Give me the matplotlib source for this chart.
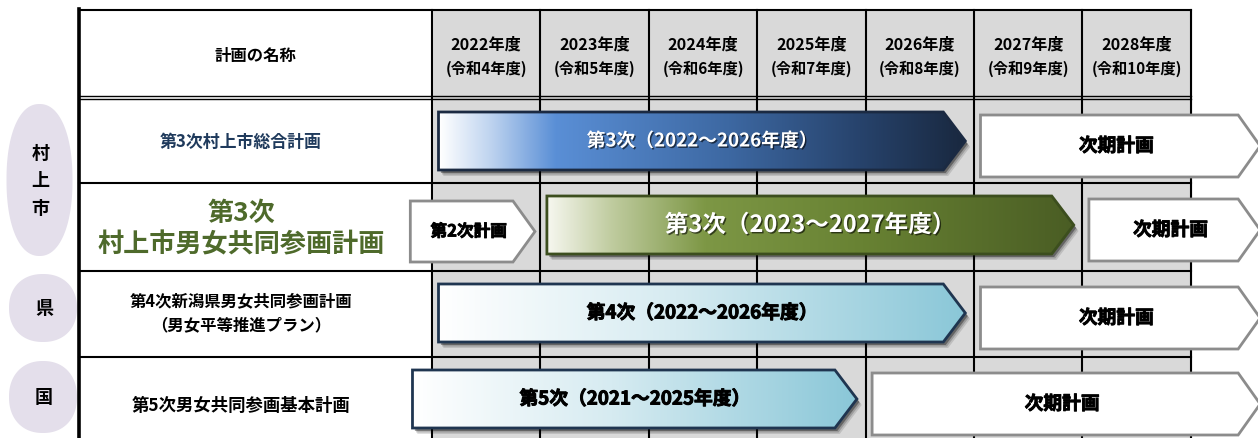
import numpy as np
import matplotlib
matplotlib.use('Agg')
import matplotlib.pyplot as plt
import matplotlib.patheffects as pe
from matplotlib.patches import Polygon, Rectangle
from matplotlib.colors import LinearSegmentedColormap

plt.rcParams['font.family'] = ['Noto Sans CJK JP', 'DejaVu Sans']

# ---------------- data ----------------
years = [2022, 2023, 2024, 2025, 2026, 2027, 2028]
reiwa = [4, 5, 6, 7, 8, 9, 10]
header_title = '計画の名称'
groups = ['村\n上\n市', '県', '国']
plan_names = ['第3次村上市総合計画',
              '第3次\n村上市男女共同参画計画',
              '第4次新潟県男女共同参画計画\n（男女平等推進プラン）',
              '第5次男女共同参画基本計画']
plan_labels = ['第3次（2022～2026年度）', '第3次（2023～2027年度）',
               '第4次（2022～2026年度）', '第5次（2021～2025年度）']
plan_start = [2022, 2023, 2022, 2021]
plan_end = [2026, 2027, 2026, 2025]
prev_label = '第2次計画'
prev_end = 2022
next_label = '次期計画'
next_start = [2027, 2028, 2027, 2026]

# ---------------- layout ----------------
W, H = 1258, 439
PX = 108.4                     # pixels per fiscal year column
x0 = years[0] - 432 / PX
x1 = x0 + W / PX


def X(p):                      # pixel -> axis units (layout only)
    return x0 + p / PX


fig = plt.figure(figsize=(W / 100, H / 100), dpi=100)
ax = fig.add_axes([0, 0, 1, 1])
ax.set_xlim(x0, x1)
ax.set_ylim(H, 0)
ax.axis('off')

name_left = X(79)
tab_right = years[-1] + 1
row_tops = [100, 184, 272, 358]

# backgrounds
ax.add_patch(Rectangle((years[0], 11), len(years), 440, color='#d9d9d9', zorder=0))
ax.add_patch(Rectangle((name_left, 11), years[0] - name_left, 440, color='white', zorder=0))

# grid lines
lw = 1.5
for y in [11, 184, 272, 358]:
    ax.plot([name_left, tab_right], [y, y], color='black', lw=lw, zorder=1)
for y in [97, 100]:
    ax.plot([name_left, tab_right], [y, y], color='black', lw=1.0, zorder=1)
for yr in years + [tab_right]:
    ax.plot([yr, yr], [11, H], color='black', lw=lw, zorder=1)
ax.plot([name_left, name_left], [10, H], color='black', lw=2.6, zorder=1)

# header texts
ax.text((name_left + years[0]) / 2, 56, header_title, ha='center', va='center',
        fontsize=11.8, fontweight='bold', zorder=5)
for yr, r in zip(years, reiwa):
    ax.text(yr + 0.5, 45, f'{yr}年度', ha='center', va='center', fontsize=11.6,
            fontweight='bold', zorder=5)
    ax.text(yr + 0.5, 69, f'(令和{r}年度)', ha='center', va='center', fontsize=11,
            fontweight='bold', zorder=5)

# plan names
name_cx = X(241)
name_styles = [dict(fontsize=12.2, color='#1f3a5c', linespacing=1.2),
               dict(fontsize=18.8, color='#4e6a2b', linespacing=1.22),
               dict(fontsize=11.8, color='black', linespacing=1.45),
               dict(fontsize=12.5, color='black', linespacing=1.2)]
name_y = [142, 229, 313, 406]
for nm, st, y in zip(plan_names, name_styles, name_y):
    ax.text(name_cx, y, nm, ha='center', va='center', fontweight='bold', zorder=5, **st)

# left group ovals
oval_col = '#e4dfeb'
ovals = [(39.5, 181, 33, 76), (43, 309, 34, 34), (43, 398, 34, 36)]
t = np.linspace(0, 2 * np.pi, 200)
n = 2.2
for (cx, cy, hw, hh), g in zip(ovals, groups):
    c, s = np.cos(t), np.sin(t)
    px_ = cx + hw * np.sign(c) * np.abs(c) ** (2 / n)
    py_ = cy + hh * np.sign(s) * np.abs(s) ** (2 / n)
    ax.add_patch(Polygon(np.column_stack([X(px_), py_]), closed=True,
                         facecolor=oval_col, edgecolor='none', zorder=2))
    ax.text(X(cx + 1), cy, g, ha='center', va='center', fontsize=13,
            fontweight='bold', linespacing=1.55, zorder=5)


def arrow_pts(xs, xt, yt, yb, depth_px=22):
    d = depth_px / PX
    return [(xs, yt), (xt - d, yt), (xt, (yt + yb) / 2), (xt - d, yb), (xs, yb)]


cmaps = [
    LinearSegmentedColormap.from_list('b', [(0, '#ffffff'), (0.1, '#bcd2ef'), (0.22, '#5a8fd6'),
                                            (0.55, '#3d68a2'), (0.8, '#27436c'), (1, '#19283f')]),
    LinearSegmentedColormap.from_list('g', [(0, '#f6f7ef'), (0.12, '#c0cca0'), (0.3, '#7d9745'),
                                            (0.6, '#688233'), (1, '#4a5d24')]),
    LinearSegmentedColormap.from_list('c', [(0, '#ffffff'), (0.45, '#d6ebf1'), (1, '#8ac7d8')]),
    LinearSegmentedColormap.from_list('c2', [(0, '#ffffff'), (0.45, '#d6ebf1'), (1, '#8ac7d8')]),
]
edge_cols = ['#1b2a42', '#3c4e1e', '#1f3550', '#1f3550']
text_cols = ['white', 'white', 'black', 'black']
label_sizes = [13.5, 17, 13.5, 13.5]
min_visible = 2021.8
grad = np.linspace(0, 1, 256).reshape(1, -1)


def white_arrow(xs, xt, yt, yb, label, fs):
    ax.add_patch(Polygon(arrow_pts(xs, xt, yt, yb), closed=True, facecolor='white',
                         edgecolor='#8c8c8c', lw=2, zorder=3, joinstyle='miter'))
    ax.text((xs + xt) / 2 - 4 / PX, (yt + yb) / 2, label, ha='center', va='center',
            fontsize=fs, fontweight='bold', zorder=5,
            path_effects=[pe.withStroke(linewidth=0.6, foreground='black')])


for i in range(len(plan_labels)):
    top = row_tops[i]
    yt, yb = top + 13, top + 71
    xs = max(plan_start[i], min_visible) + (0.06 if plan_start[i] >= min_visible else 0.02)
    xt = plan_end[i] + 1 - 0.08
    pts = arrow_pts(xs, xt, yt, yb)
    # shadow
    for k, a in [(6, 0.12), (4.5, 0.18), (3, 0.35)]:
        sp = [(px + k * 0.8 / PX, py + k) for px, py in pts]
        ax.add_patch(Polygon(sp, closed=True, facecolor='black', edgecolor='none',
                             alpha=a, zorder=2.5))
    poly = Polygon(pts, closed=True, facecolor='none', edgecolor=edge_cols[i], lw=2,
                   zorder=3.2, joinstyle='miter')
    ax.add_patch(poly)
    im = ax.imshow(grad, cmap=cmaps[i], extent=[xs, xt, yb, yt], aspect='auto',
                   zorder=3.1, interpolation='bilinear')
    im.set_clip_path(poly)
    if text_cols[i] == 'white':
        effects = [pe.SimplePatchShadow(offset=(1, -1), shadow_rgbFace='black', alpha=0.6),
                   pe.Normal()]
    else:
        effects = [pe.withStroke(linewidth=0.7, foreground='black')]
    ax.text((xs + xt) / 2, (yt + yb) / 2, plan_labels[i], ha='center', va='center',
            fontsize=label_sizes[i], fontweight='bold', color=text_cols[i], zorder=5,
            path_effects=effects)

    # next plan
    ns = next_start[i] + 0.06
    white_arrow(ns, x1 + 0.02, top + 16, top + 78, next_label, 13.5)

# previous plan (row 2)
white_arrow(min_visible, prev_end + 1 - 0.05, row_tops[1] + 18, row_tops[1] + 79, prev_label, 12)

ax.set_xlim(x0, x1)
ax.set_ylim(H, 0)
fig.savefig('out.png', dpi=100)
